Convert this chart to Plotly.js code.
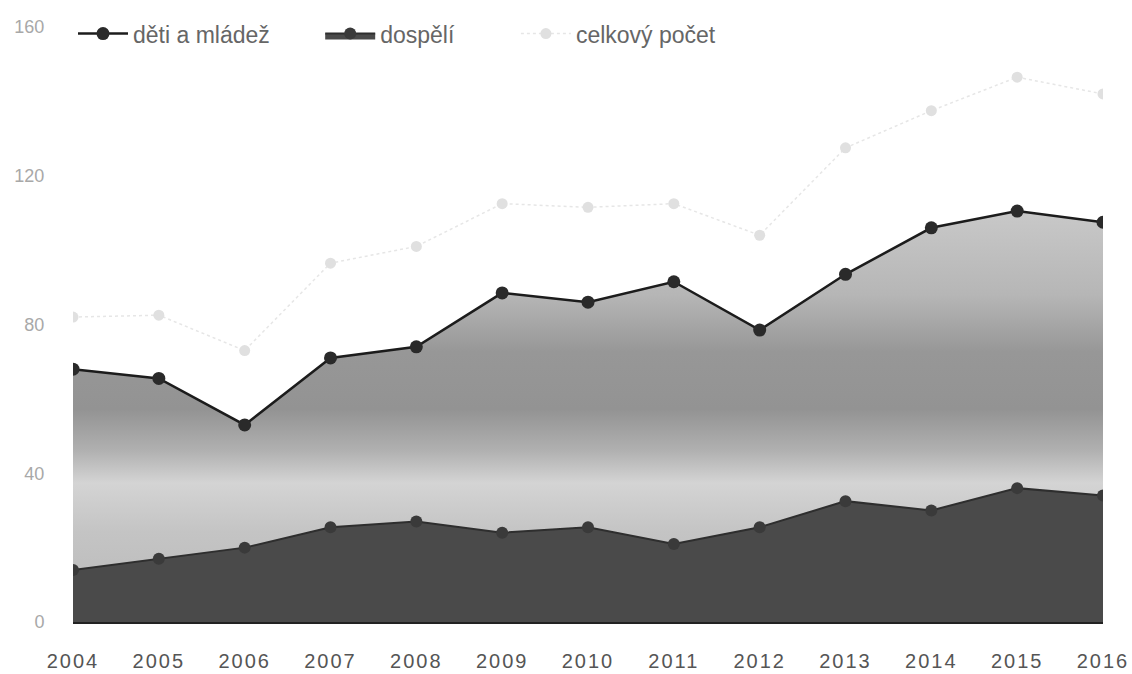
<!DOCTYPE html>
<html>
<head>
<meta charset="utf-8">
<script src="https://cdn.plot.ly/plotly-3.0.1.min.js"></script>
<style>
html,body{margin:0;padding:0;background:#fff;}
#chart{width:1132px;height:674px;}
#chart .xtick text{letter-spacing:2px;}
</style>
</head>
<body>
<div id="chart"></div>
<script>
var years = [2004, 2005, 2006, 2007, 2008, 2009, 2010, 2011, 2012, 2013, 2014, 2015, 2016];
var detiAMladez = [68, 65.5, 53, 71, 74, 88.5, 86, 91.5, 78.5, 93.5, 106, 110.5, 107.5];
var dospeli = [14, 17, 20, 25.5, 27, 24, 25.5, 21, 25.5, 32.5, 30, 36, 34];
var celkovyPocet = [82, 82.5, 73, 96.5, 101, 112.5, 111.5, 112.5, 104, 127.5, 137.5, 146.5, 142];
var yTicks = [0, 40, 80, 120, 160];
var names = ['děti a mládež', 'dospělí', 'celkový počet'];

var traces = [
  {
    x: years, y: detiAMladez, type: 'scatter', mode: 'none', fill: 'tozeroy',
    fillgradient: {type: 'vertical', start: 0, stop: 110,
      colorscale: [[0, '#b8b8b8'], [0.22, '#c4c4c4'], [0.34, '#d4d4d4'], [0.42, '#b0b0b0'],
                   [0.52, '#939393'], [0.66, '#979797'], [0.8, '#b6b6b6'], [1, '#c8c8c8']]},
    showlegend: false, hoverinfo: 'skip'
  },
  {
    x: years, y: dospeli, type: 'scatter', mode: 'lines+markers', name: names[1], fill: 'tozeroy',
    fillcolor: '#4a4a4a',
    line: {color: '#2e2e2e', width: 2},
    marker: {color: '#3a3a3a', size: 12},
    legend: 'legend2'
  },
  {
    x: years, y: detiAMladez, type: 'scatter', mode: 'lines+markers', name: names[0],
    line: {color: '#1c1c1c', width: 2.5},
    marker: {color: '#2a2a2a', size: 13},
    legend: 'legend'
  },
  {
    x: years, y: celkovyPocet, type: 'scatter', mode: 'lines+markers', name: names[2],
    line: {color: '#e6e6e6', width: 1.5, dash: 'dot'},
    marker: {color: '#e0e0e0', size: 11},
    legend: 'legend3'
  }
];

function leg(x) {
  return {orientation: 'h', x: x, xanchor: 'left', y: 1.025, yanchor: 'top', itemwidth: 50,
          font: {size: 23, color: '#666'}, bgcolor: 'rgba(0,0,0,0)'};
}

var layout = {
  width: 1132, height: 674,
  margin: {l: 73, r: 29, t: 25, b: 52},
  paper_bgcolor: '#ffffff', plot_bgcolor: '#ffffff',
  font: {family: 'Liberation Sans, Arial, sans-serif', color: '#555'},
  showlegend: true,
  legend: leg(0),
  legend2: leg(0.24),
  legend3: leg(0.43),
  xaxis: {
    range: [2004, 2016], tickvals: years, ticktext: years.map(String),
    showgrid: false, zeroline: false, showline: true, linecolor: '#222', linewidth: 2,
    ticks: 'outside', ticklen: 20, tickcolor: 'rgba(0,0,0,0)',
    tickfont: {size: 20, color: '#555'}
  },
  yaxis: {
    range: [0, 160], tickvals: yTicks, showgrid: false, zeroline: false, showline: false,
    ticks: 'outside', ticklen: 24, tickcolor: 'rgba(0,0,0,0)',
    tickfont: {size: 18, color: '#a8a8a8'}
  }
};

Plotly.newPlot('chart', traces, layout, {displayModeBar: false, staticPlot: true});
</script>
</body>
</html>
